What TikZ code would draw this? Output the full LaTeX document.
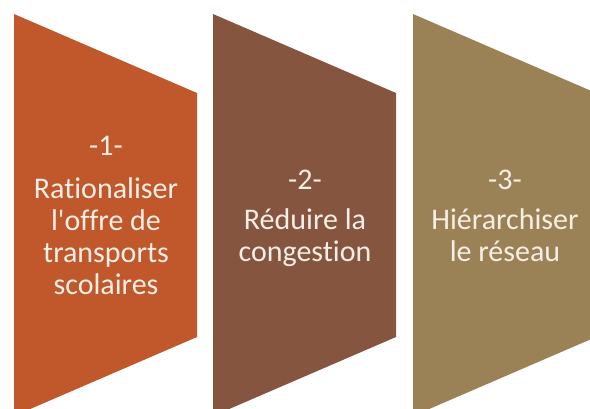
\documentclass[tikz,border=0pt]{standalone}
\usepackage{fontspec}
\setmainfont[Ligatures={NoCommon,NoContextual}]{Carlito}
\definecolor{cA}{HTML}{C0582B}
\definecolor{cB}{HTML}{86553F}
\definecolor{cC}{HTML}{9B8256}
\definecolor{txt}{HTML}{F7EEE6}
\begin{document}
\begin{tikzpicture}[x=1pt,y=-1pt,
  lbl/.style={text=txt,align=center,font=\fontsize{30}{32}\selectfont,inner sep=0pt}]
\useasboundingbox (0,0) rectangle (590,408);
\clip (0,0) rectangle (590,408);
\fill[cA] (14,14) -- (197,93) -- (197,337) -- (14,416) -- cycle;
\fill[cB] (213,14) -- (396,93) -- (396,337) -- (213,416) -- cycle;
\fill[cC] (413,14) -- (596,93) -- (596,337) -- (413,416) -- cycle;
\node[lbl] (n1) at (106,146) {-1-};
\node[lbl,anchor=north] (t1) at (106,177) {Rationaliser\\l\textquotesingle offre de\\transports\\scolaires};
\node[lbl] (n2) at (305,180) {-2-};
\node[lbl,anchor=north] (t2) at (305,208) {Réduire la\\congestion};
\node[lbl] (n3) at (505,180) {-3-};
\node[lbl,anchor=north] (t3) at (505,208) {Hiérarchiser\\le réseau};
\end{tikzpicture}
\end{document}
